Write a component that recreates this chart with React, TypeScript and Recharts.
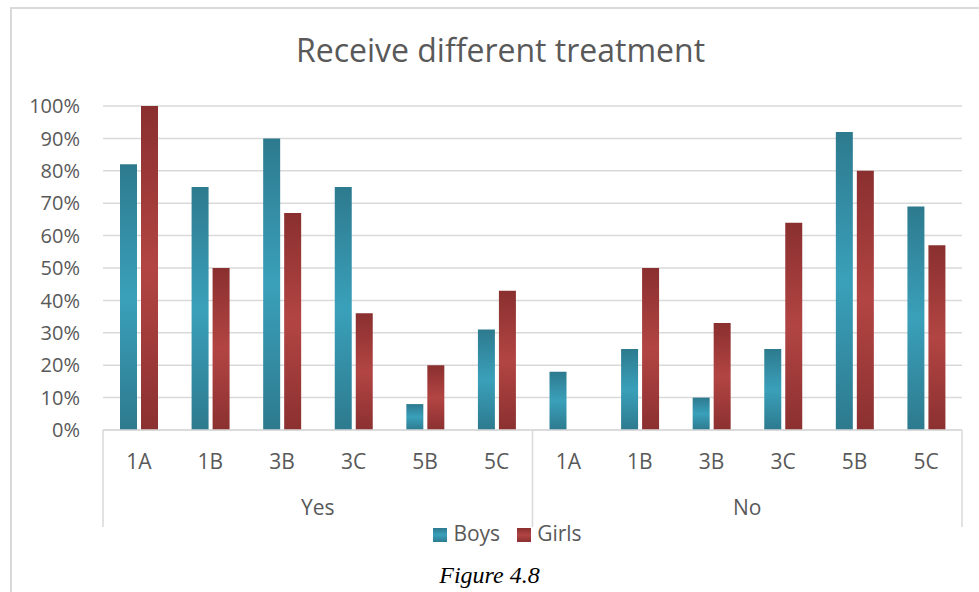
import { BarChart, Bar, XAxis, YAxis, CartesianGrid, Legend } from 'recharts';

const categories = ['1A', '1B', '3B', '3C', '5B', '5C', '1A', '1B', '3B', '3C', '5B', '5C'];
const groups = ['Yes', 'No'];
const boys = [0.82, 0.75, 0.9, 0.75, 0.08, 0.31, 0.18, 0.25, 0.1, 0.25, 0.92, 0.69];
const girls = [1.0, 0.5, 0.67, 0.36, 0.2, 0.43, 0, 0.5, 0.33, 0.64, 0.8, 0.57];
const yTicks = [0, 0.1, 0.2, 0.3, 0.4, 0.5, 0.6, 0.7, 0.8, 0.9, 1];
// group axis: 0/6/12 are the separators, 3/9 carry the group names
const groupTicks = [0, 3, 6, 9, 12];

const data = categories.map((cat, i) => ({ cat, pos: i, boys: boys[i], girls: girls[i] }));

const TEXT = '#595959';
const GRID = '#d9d9d9';
const FONT = '"Open Sans", sans-serif';

function GroupTick(props: any) {
  const { x, y, payload } = props;
  const v = payload.value;
  if (v % 6 === 0) {
    return <line x1={x} x2={x} y1={y - 45} y2={y + 52} stroke={GRID} strokeWidth={1.5} />;
  }
  return (
    <text x={x} y={y + 32} textAnchor="middle" dominantBaseline="central" fill={TEXT} fontSize={21} fontFamily={FONT}>
      {groups[(v - 3) / 6]}
    </text>
  );
}

export default function App() {
  return (
    <div style={{ position: 'absolute', left: 0, top: 0, width: 979, height: 592, overflow: 'hidden', background: '#fff' }}>
      <div style={{ position: 'absolute', left: 10, top: 7, width: 969, height: 585, borderLeft: `2px solid ${GRID}`, borderTop: `2px solid ${GRID}` }} />
      <div style={{ position: 'absolute', left: 0, width: 1001, top: 28, textAlign: 'center', fontFamily: FONT, fontSize: 32, color: TEXT, lineHeight: '44px' }}>
        Receive different treatment
      </div>
      <BarChart
        width={979}
        height={592}
        data={data}
        margin={{ top: 106, right: 17, left: 10, bottom: 37 }}
        barSize={17}
        barGap={4}
        style={{ position: 'absolute', left: 0, top: 0 }}
      >
        <defs>
          <linearGradient id="gBoys" x1="0" y1="0" x2="0" y2="1">
            <stop offset="0" stopColor="#2d7a8e" />
            <stop offset="0.5" stopColor="#3aa0ba" />
            <stop offset="1" stopColor="#2d7a8e" />
          </linearGradient>
          <linearGradient id="gGirls" x1="0" y1="0" x2="0" y2="1">
            <stop offset="0" stopColor="#8a2f2f" />
            <stop offset="0.5" stopColor="#b24543" />
            <stop offset="1" stopColor="#8b3030" />
          </linearGradient>
        </defs>
        <CartesianGrid vertical={false} stroke={GRID} strokeWidth={1.5} />
        <XAxis
          dataKey="cat"
          height={45}
          tickLine={false}
          tickSize={0}
          tickMargin={24}
          axisLine={{ stroke: GRID, strokeWidth: 1.5 }}
          tick={{ fill: TEXT, fontSize: 21, fontFamily: FONT }}
          interval={0}
        />
        <XAxis
          xAxisId="grp"
          dataKey="pos"
          type="number"
          domain={[0, 12]}
          allowDataOverflow
          ticks={groupTicks}
          height={52}
          tickLine={false}
          tickSize={0}
          tickMargin={0}
          axisLine={false}
          tick={<GroupTick />}
          interval={0}
        />
        <YAxis
          width={93}
          domain={[0, 1]}
          ticks={yTicks}
          tickFormatter={(v: number) => `${Math.round(v * 100)}%`}
          axisLine={false}
          tickLine={false}
          tickSize={0}
          tickMargin={23}
          tick={{ fill: TEXT, fontSize: 20, fontFamily: FONT }}
          interval={0}
        />
        <Legend
          iconType="square"
          iconSize={14}
          wrapperStyle={{ left: 53, width: 926, top: 519, fontFamily: FONT, fontSize: 21 }}
          formatter={(value: string) => (
            <span style={{ color: TEXT, marginLeft: 2, marginRight: 7 }}>{value}</span>
          )}
        />
        <Bar dataKey="boys" name="Boys" fill="url(#gBoys)" isAnimationActive={false} />
        <Bar dataKey="girls" name="Girls" fill="url(#gGirls)" isAnimationActive={false} />
      </BarChart>
      <div style={{ position: 'absolute', left: 0, width: 979, top: 560, textAlign: 'center', fontFamily: '"Liberation Serif", serif', fontStyle: 'italic', fontSize: 24, color: '#000', lineHeight: '30px' }}>
        Figure 4.8
      </div>
    </div>
  );
}
